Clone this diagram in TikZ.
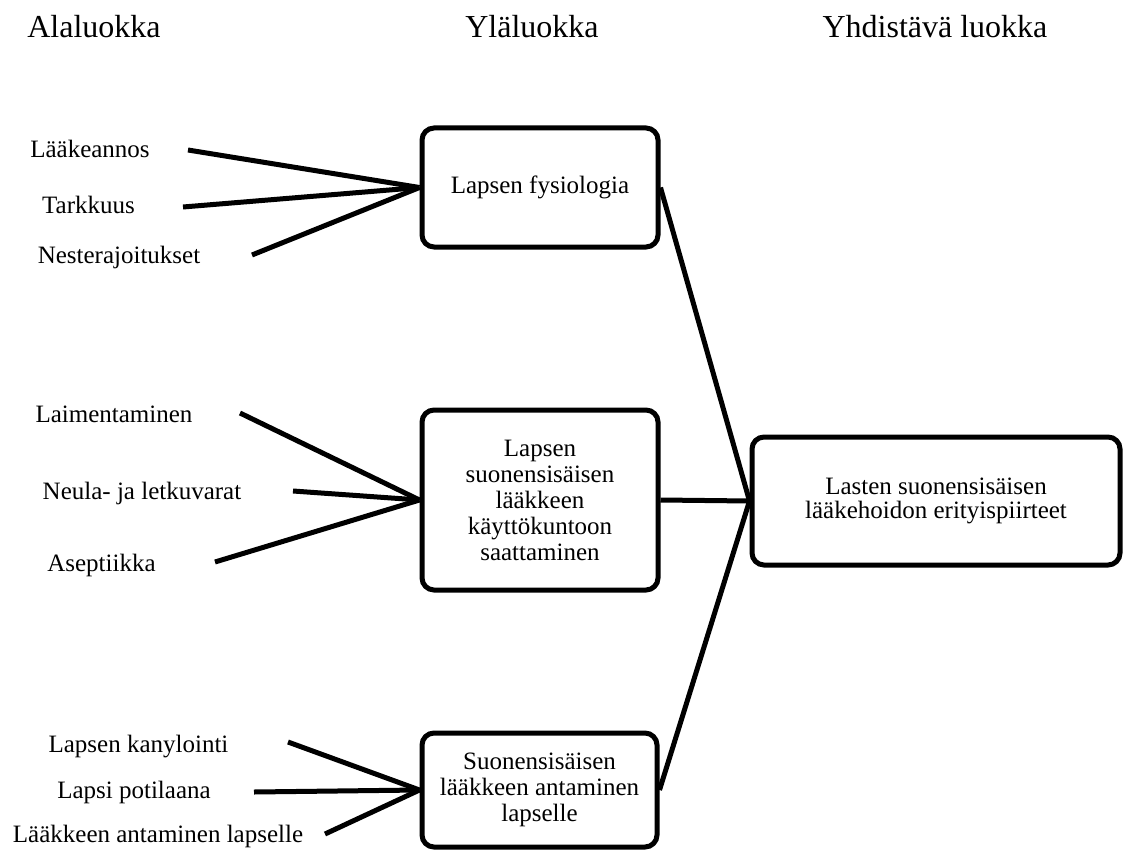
\documentclass[tikz,border=0pt]{standalone}
\usepackage{fontspec}
\setmainfont{Liberation Serif}
\begin{document}
\begin{tikzpicture}[x=1pt,y=-1pt,
  box/.style={draw, line width=5pt, rounded corners=12pt, align=center, inner sep=0pt, font=\fontsize{25}{26}\selectfont},
  lbl/.style={anchor=base, inner sep=0pt, font=\fontsize{25}{30}\selectfont},
  hdr/.style={anchor=base, inner sep=0pt, font=\fontsize{32}{36}\selectfont},
  conn/.style={line width=5pt}]
\useasboundingbox (0,0) rectangle (1123,850);

% headers
\node[hdr] (h1) at (94,38) {Alaluokka};
\node[hdr] (h2) at (532,38) {Yläluokka};
\node[hdr] (h3) at (935,38) {Yhdistävä luokka};

% boxes
\node[box, minimum width=236pt, minimum height=119pt] (p1) at (540,187.5) {Lapsen fysiologia};
\node[box, minimum width=236pt, minimum height=180pt] (p2) at (540,500) {Lapsen\\suonensisäisen\\lääkkeen\\käyttökuntoon\\saattaminen};
\node[box, minimum width=368pt, minimum height=128pt, font=\fontsize{25}{23.5}\selectfont] (p3) at (936,501) {Lasten suonensisäisen\\lääkehoidon erityispiirteet};
\node[box, minimum width=235pt, minimum height=114pt, font=\fontsize{25}{26}\selectfont] (p4) at (539.5,790) {Suonensisäisen\\lääkkeen antaminen\\lapselle};

% labels
\node[lbl] (l1) at (90,158) {Lääkeannos};
\node[lbl] (l2) at (88.5,214) {Tarkkuus};
\node[lbl] (l3) at (119,263) {Nesterajoitukset};
\node[lbl] (l4) at (114,422) {Laimentaminen};
\node[lbl] (l5) at (142,499) {Neula- ja letkuvarat};
\node[lbl] (l6) at (101.5,571) {Aseptiikka};
\node[lbl] (l7) at (138.5,752) {Lapsen kanylointi};
\node[lbl] (l8) at (134,798) {Lapsi potilaana};
\node[lbl] (l9) at (158,842) {Lääkkeen antaminen lapselle};

% line start points
\coordinate (a1) at (188,150);
\coordinate (a2) at (183,207);
\coordinate (a3) at (252,255);
\coordinate (b1) at (240,413);
\coordinate (b2) at (293,491);
\coordinate (b3) at (215,562);
\coordinate (c1) at (288,742);
\coordinate (c2) at (254,792);
\coordinate (c3) at (325,834);

\draw[conn] (a1) -- (p1.west);
\draw[conn] (a2) -- (p1.west);
\draw[conn] (a3) -- (p1.west);
\draw[conn] (b1) -- (p2.west);
\draw[conn] (b2) -- (p2.west);
\draw[conn] (b3) -- (p2.west);
\draw[conn] (c1) -- (p4.west);
\draw[conn] (c2) -- (p4.west);
\draw[conn] (c3) -- (p4.west);

\draw[conn] (p1.east) -- (p3.west);
\draw[conn] (p2.east) -- (p3.west);
\draw[conn] (p4.east) -- (p3.west);
\end{tikzpicture}
\end{document}
